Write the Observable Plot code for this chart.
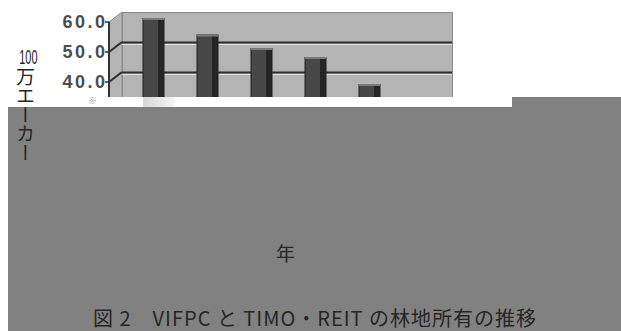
<!DOCTYPE html>
<html>
<head>
<meta charset="utf-8">
<script src="https://cdn.jsdelivr.net/npm/d3@7"></script>
<script src="https://cdn.jsdelivr.net/npm/@observablehq/plot@0.6"></script>
<style>
  html, body { margin: 0; padding: 0; background: #fff; }
  #wrap { position: relative; width: 621px; height: 331px; overflow: hidden; background: #fff; }
  #chart { position: absolute; left: 0; top: 0; }
  #chart svg text { letter-spacing: 2.5px; }
  .abs { position: absolute; }
  .cjk { font-family: "Noto Sans CJK JP", "Noto Sans", sans-serif; color: #262626; white-space: nowrap; }
</style>
</head>
<body>
<div id="wrap">
  <div id="chart"></div>
  <div class="abs" style="left:86px;top:97px;width:426px;height:10px;background:#fff;"></div>
  <div class="abs" style="left:143px;top:97px;width:31px;height:10px;background:linear-gradient(to right,#d9d9d9,#f4f4f4);"></div>
  <div class="abs cjk" id="note" style="left:88px;top:96px;font-size:9px;line-height:9px;color:#999;"></div>
  <div class="abs" style="left:512px;top:97px;width:109px;height:10px;background:#818181;"></div>
  <div class="abs" style="left:8px;top:107px;width:613px;height:224px;background:#818181;"></div>
  <div class="abs cjk" id="ylab" style="left:14px;top:46px;width:22px;text-align:center;"></div>
  <div class="abs cjk" id="xlab" style="left:276px;top:243px;font-size:19px;line-height:19px;"></div>
  <div class="abs cjk" id="cap" style="left:93px;top:308px;font-size:20px;line-height:20px;letter-spacing:1px;"></div>
</div>
<script>
// ---- data ----
const categories = ["1", "2", "3", "4", "5"];          // x categories (labels hidden in the source)
const values = [59.5, 54.0, 49.5, 46.5, 37.5];          // 100万エーカー
const yTicks = [0, 10, 20, 30, 40, 50, 60];
const yTickLabels = [40, 50, 60];                       // labels left visible in the source
const yLabelNum = "100";
const yLabelText = "万エーカー";
const xLabel = "年";
const caption = "図 2　VIFPC と TIMO・REIT の林地所有の推移";
const note = "※";

const data = categories.map((c, i) => ({cat: c, value: values[i]}));

// 3D depth offsets (styling)
const depthX = 13, depthY = 10;
const wallFill = "#b4b4b4";

function sideWall(index, scales, vals, dims) {
  const y = scales.y;
  const L = dims.marginLeft;
  const ax = L - depthX;
  const top = y(60), bot = y(0);
  const g = d3.create("svg:g");
  g.append("path")
    .attr("d", `M${ax},${top}L${L},${top - depthY}L${L},${bot - depthY}L${ax},${bot}Z`)
    .attr("fill", wallFill).attr("stroke", "#8c8c8c");
  for (const t of yTicks) {
    if (t === 60) continue;
    g.append("line")
      .attr("x1", ax).attr("y1", y(t)).attr("x2", L).attr("y2", y(t) - depthY)
      .attr("stroke", "#2e2e2e").attr("stroke-width", 2);
  }
  for (const t of yTicks) {
    g.append("line")
      .attr("x1", ax - 4).attr("y1", y(t)).attr("x2", ax).attr("y2", y(t))
      .attr("stroke", "#333").attr("stroke-width", 1.5);
  }
  g.append("line")
    .attr("x1", ax).attr("y1", top).attr("x2", ax).attr("y2", bot)
    .attr("stroke", "#333").attr("stroke-width", 2);
  return g.node();
}

const chart = Plot.plot({
  width: 621,
  height: 331,
  marginTop: 12,
  marginRight: 169,
  marginBottom: 211,
  marginLeft: 122,
  style: {background: "transparent", fontFamily: "'Liberation Sans', Arial, sans-serif", overflow: "visible"},
  x: {domain: categories, range: [109, 414], padding: 0.61, axis: null},
  y: {domain: [0, 60], range: [202, 22], axis: null},
  marks: [
    Plot.frame({fill: wallFill, stroke: "#8c8c8c"}),
    sideWall,
    Plot.ruleY(yTicks.filter(t => t < 60), {y: d => d, dy: -depthY + 2, stroke: "#e2e2e2", strokeWidth: 1}),
    Plot.ruleY(yTicks.filter(t => t < 60), {y: d => d, dy: -depthY, stroke: "#2e2e2e", strokeWidth: 2}),
    Plot.barY(data, {x: "cat", y: "value", dy: -5, insetRight: 5, fill: "#474747", stroke: "#1e1e1e", strokeWidth: 1}),
    Plot.barY(data, {x: "cat", y: "value", dy: -5, insetLeft: 16, fill: "#262626", stroke: "#1e1e1e", strokeWidth: 1}),
    Plot.tickY(data, {x: "cat", y: "value", dy: -5, stroke: "#7a7a7a", strokeWidth: 2}),
    Plot.text(yTickLabels, {y: d => d, text: d => d3.format(".1f")(d), frameAnchor: "left", textAnchor: "end", dx: -15, fontSize: 18, fontWeight: "bold", fill: "#4d4d4d"})
  ]
});
document.getElementById("chart").appendChild(chart);

document.getElementById("note").textContent = note;
document.getElementById("xlab").textContent = xLabel;
document.getElementById("cap").textContent = caption;

// y-axis title: condensed "100" on top, then vertical "万エーカー"
const ylab = document.getElementById("ylab");
const num = document.createElement("div");
num.textContent = yLabelNum;
num.style.cssText = "font-family:'Liberation Sans',Arial,sans-serif;font-size:21px;line-height:21px;color:#262626;-webkit-font-smoothing:antialiased;transform:scaleX(0.52);transform-origin:center;";
ylab.appendChild(num);
const vert = document.createElement("div");
vert.textContent = yLabelText;
vert.style.cssText = "writing-mode:vertical-rl;font-size:19px;line-height:22px;margin:0 auto 0;";
ylab.appendChild(vert);
</script>
</body>
</html>
